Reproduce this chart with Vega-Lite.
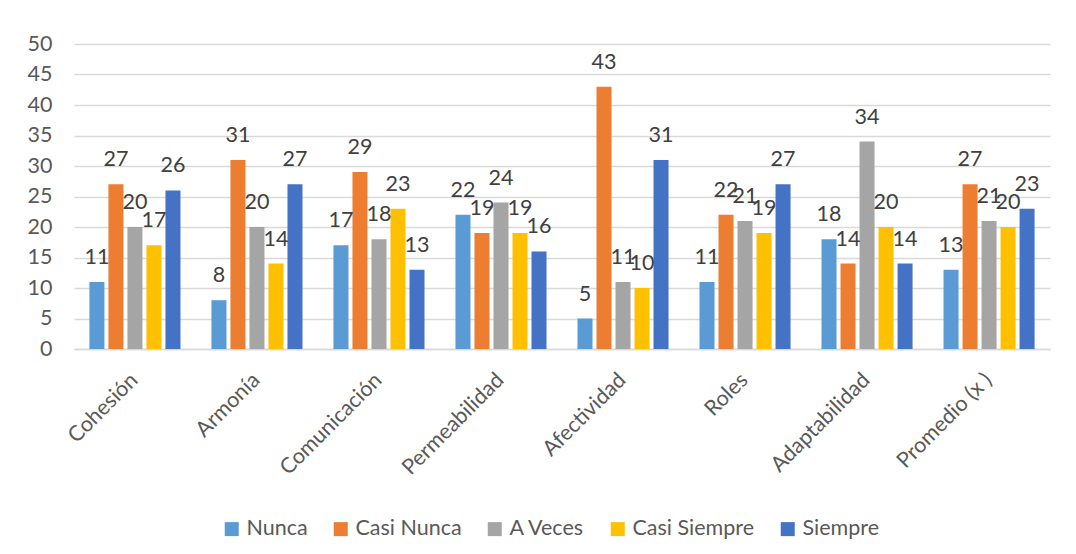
{
  "$schema": "https://vega.github.io/schema/vega-lite/v6.json",
  "width": 976,
  "height": 305,
  "autosize": {"type": "none"},
  "padding": {"left": 74, "top": 44, "right": 26, "bottom": 205},
  "background": "white",
  "config": {
    "font": "Lato",
    "view": {"stroke": null}
  },
  "data": {
    "values": [
      {"cat": "Cohesión", "serie": "Nunca", "v": 11},
      {"cat": "Cohesión", "serie": "Casi Nunca", "v": 27},
      {"cat": "Cohesión", "serie": "A Veces", "v": 20},
      {"cat": "Cohesión", "serie": "Casi Siempre", "v": 17},
      {"cat": "Cohesión", "serie": "Siempre", "v": 26},
      {"cat": "Armonía", "serie": "Nunca", "v": 8},
      {"cat": "Armonía", "serie": "Casi Nunca", "v": 31},
      {"cat": "Armonía", "serie": "A Veces", "v": 20},
      {"cat": "Armonía", "serie": "Casi Siempre", "v": 14},
      {"cat": "Armonía", "serie": "Siempre", "v": 27},
      {"cat": "Comunicación", "serie": "Nunca", "v": 17},
      {"cat": "Comunicación", "serie": "Casi Nunca", "v": 29},
      {"cat": "Comunicación", "serie": "A Veces", "v": 18},
      {"cat": "Comunicación", "serie": "Casi Siempre", "v": 23},
      {"cat": "Comunicación", "serie": "Siempre", "v": 13},
      {"cat": "Permeabilidad", "serie": "Nunca", "v": 22},
      {"cat": "Permeabilidad", "serie": "Casi Nunca", "v": 19},
      {"cat": "Permeabilidad", "serie": "A Veces", "v": 24},
      {"cat": "Permeabilidad", "serie": "Casi Siempre", "v": 19},
      {"cat": "Permeabilidad", "serie": "Siempre", "v": 16},
      {"cat": "Afectividad", "serie": "Nunca", "v": 5},
      {"cat": "Afectividad", "serie": "Casi Nunca", "v": 43},
      {"cat": "Afectividad", "serie": "A Veces", "v": 11},
      {"cat": "Afectividad", "serie": "Casi Siempre", "v": 10},
      {"cat": "Afectividad", "serie": "Siempre", "v": 31},
      {"cat": "Roles", "serie": "Nunca", "v": 11},
      {"cat": "Roles", "serie": "Casi Nunca", "v": 22},
      {"cat": "Roles", "serie": "A Veces", "v": 21},
      {"cat": "Roles", "serie": "Casi Siempre", "v": 19},
      {"cat": "Roles", "serie": "Siempre", "v": 27},
      {"cat": "Adaptabilidad", "serie": "Nunca", "v": 18},
      {"cat": "Adaptabilidad", "serie": "Casi Nunca", "v": 14},
      {"cat": "Adaptabilidad", "serie": "A Veces", "v": 34},
      {"cat": "Adaptabilidad", "serie": "Casi Siempre", "v": 20},
      {"cat": "Adaptabilidad", "serie": "Siempre", "v": 14},
      {"cat": "Promedio (x )", "serie": "Nunca", "v": 13},
      {"cat": "Promedio (x )", "serie": "Casi Nunca", "v": 27},
      {"cat": "Promedio (x )", "serie": "A Veces", "v": 21},
      {"cat": "Promedio (x )", "serie": "Casi Siempre", "v": 20},
      {"cat": "Promedio (x )", "serie": "Siempre", "v": 23}
    ]
  },
  "encoding": {
    "x": {
      "field": "cat",
      "type": "nominal",
      "sort": null,
      "title": null,
      "scale": {"paddingInner": 0.221, "paddingOuter": 0.11},
      "axis": {
        "labelAngle": -45,
        "labelAlign": "right",
        "labelBaseline": "top",
        "labelFontSize": 21.5,
        "labelColor": "#595959",
        "ticks": false,
        "labelPadding": 20,
        "labelOffset": -8,
        "domainColor": "#D9D9D9",
        "domainWidth": 1.5
      }
    },
    "xOffset": {
      "field": "serie",
      "type": "nominal",
      "sort": ["Nunca", "Casi Nunca", "A Veces", "Casi Siempre", "Siempre"],
      "scale": {"paddingInner": 0.21, "paddingOuter": 0.105}
    },
    "y": {
      "field": "v",
      "type": "quantitative",
      "title": null,
      "scale": {"domain": [0, 50], "nice": false},
      "axis": {
        "values": [0, 5, 10, 15, 20, 25, 30, 35, 40, 45, 50],
        "labelFontSize": 21.5,
        "labelColor": "#595959",
        "ticks": false,
        "domain": false,
        "labelPadding": 22,
        "gridColor": "#D9D9D9",
        "gridWidth": 1.5
      }
    }
  },
  "layer": [
    {
      "mark": {"type": "bar"},
      "encoding": {
        "color": {
          "field": "serie",
          "type": "nominal",
          "sort": ["Nunca", "Casi Nunca", "A Veces", "Casi Siempre", "Siempre"],
          "scale": {
            "domain": ["Nunca", "Casi Nunca", "A Veces", "Casi Siempre", "Siempre"],
            "range": ["#5B9BD5", "#ED7D31", "#A5A5A5", "#FFC000", "#4472C4"]
          },
          "legend": {
            "title": null,
            "orient": "none",
            "direction": "horizontal",
            "legendX": 147,
            "legendY": 474,
            "symbolType": "square",
            "symbolSize": 196,
            "symbolStrokeWidth": 0,
            "labelFontSize": 21.5,
            "labelColor": "#595959",
            "labelOffset": 4,
            "columnPadding": 22,
            "labelExpr": "datum.label == 'Siempre' ? '\u00a0Siempre' : datum.label"
          }
        }
      }
    },
    {
      "mark": {"type": "text", "fontSize": 21.5, "color": "#404040", "baseline": "alphabetic", "dy": -18},
      "encoding": {
        "text": {"field": "v", "type": "quantitative"}
      }
    }
  ]
}
